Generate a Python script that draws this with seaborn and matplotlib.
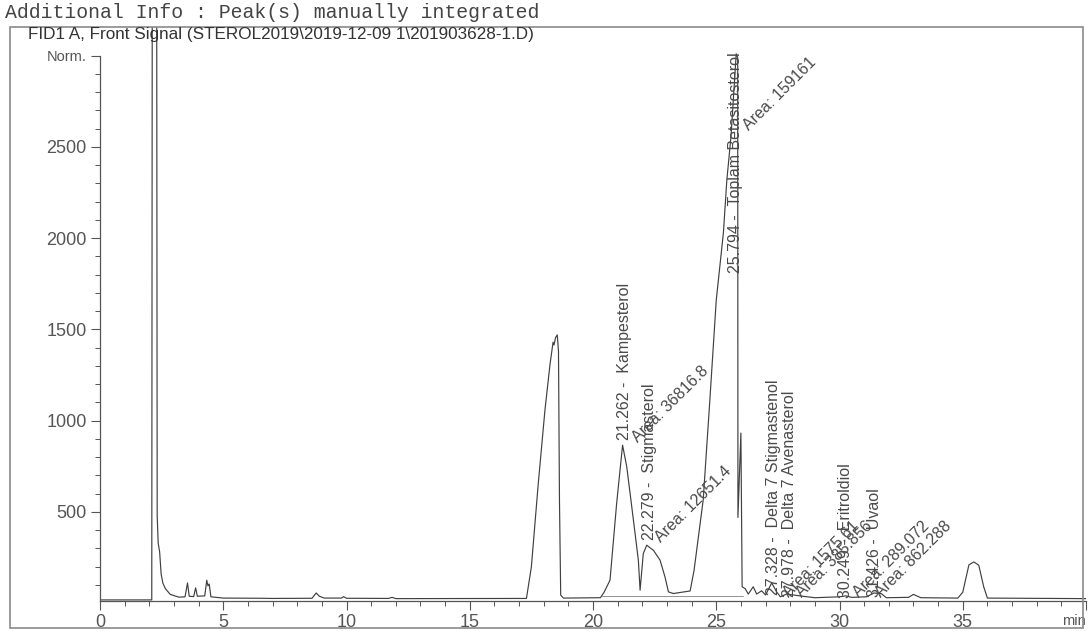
#Libraries
import numpy as np
import pandas as pd
import matplotlib
matplotlib.use("Agg")
import matplotlib.pyplot as plt
import matplotlib.patches as patches
from matplotlib.ticker import MultipleLocator, FixedLocator
import seaborn as sns

#Chromatogram trace (retention time in min, detector signal)
time_min = [0.05, 2.10, 2.12, 2.30, 2.32, 2.36, 2.42, 2.48, 2.55, 2.65, 2.85, 3.2,
            3.45, 3.55, 3.62, 3.80, 3.88, 3.95, 4.25, 4.33, 4.38, 4.43, 4.50, 5.0,
            6.5, 7.0, 8.6, 8.77, 8.9, 9.1, 9.8, 9.88, 10.0, 11.7, 11.85, 12.0,
            17.3, 17.5, 17.78, 18.05, 18.26, 18.38, 18.42, 18.48, 18.55, 18.60,
            18.64, 18.69, 18.8, 20.3, 20.45, 20.69, 20.96, 21.2, 21.37, 21.64,
            21.84, 21.91, 22.04, 22.18, 22.3, 22.45, 22.72, 22.92, 23.06, 23.26,
            23.94, 24.1, 24.47, 24.74, 25.0, 25.29, 25.43, 25.6, 25.81, 25.87,
            25.88, 26.0, 26.05, 26.17, 26.3, 26.5, 26.64, 26.84, 27.0, 27.25,
            27.45, 27.6, 27.85, 28.4, 29.0, 30.0, 30.25, 30.5, 31.1, 31.4, 31.7,
            31.9, 32.8, 33.0, 33.3, 34.8, 35.0, 35.25, 35.45, 35.65, 35.85, 36.0,
            40.0]
signal = [18, 18, 3400, 3400, 480, 330, 280, 160, 110, 80, 48, 33,
          35, 111, 38, 36, 84, 38, 40, 126, 95, 105, 35, 28,
          27, 26, 27, 56, 38, 28, 28, 36, 27, 26, 32, 25,
          26, 199, 656, 1057, 1313, 1430, 1415, 1455, 1470, 1380,
          560, 44, 28, 30, 60, 126, 548, 866, 747, 455,
          236, 71, 272, 318, 305, 290, 236, 144, 62, 53,
          67, 180, 565, 1112, 1660, 2029, 2319, 2560, 3010, 2990,
          470, 932, 90, 80, 50, 90, 50, 68, 45, 111,
          62, 35, 50, 40, 30, 35, 40, 32, 35, 56, 52,
          30, 32, 48, 30, 28, 60, 210, 226, 208, 90, 28,
          25]

#Integrated peaks
peak_rt = [21.262, 22.279, 25.794, 27.328, 27.978, 30.249, 31.426]
peak_name = ["Kampesterol", "Stigmasterol", "Toplam Betasitosterol",
             "Delta 7 Stigmastenol", "Delta 7 Avenasterol", "Eritroldiol", "Uvaol"]
label_base = [893, 347, 1808, 45, 35, 30, 35]

area_text = ["36816.8", "12651.4", "159161", "1575.61", "385.856", "289.072", "862.288"]
area_x = [21.48, 22.40, 26.00, 27.60, 28.15, 30.45, 31.35]
area_y = [866, 318, 2577, 18, 18, 18, 18]

#integration baseline
base_t = [20.35, 26.1]
base_v = [40, 40]

df = pd.DataFrame({"time": time_min, "signal": signal})

sns.set_style("white")
plt.rcParams["font.family"] = ["Liberation Sans", "DejaVu Sans"]

fig = plt.figure(figsize=(10.92, 6.31), dpi=100)
ax = fig.add_axes([100 / 1092, 30 / 631, 986 / 1092, 574 / 631])

sns.lineplot(data=df, x="time", y="signal", ax=ax, color="#404040",
             linewidth=0.85, estimator=None, sort=False)
ax.plot(base_t, base_v, color="#808080", linewidth=0.6)

ax.set_xlim(0, 40)
ax.set_ylim(12, 3157)
ax.set_xlabel("")
ax.set_ylabel("")

for s in ["top", "right"]:
    ax.spines[s].set_visible(False)
ax.spines["left"].set_bounds(12, 3000)
for s in ["left", "bottom"]:
    ax.spines[s].set_color("#555555")
    ax.spines[s].set_linewidth(0.9)

ax.xaxis.set_major_locator(FixedLocator([0, 5, 10, 15, 20, 25, 30, 35, 40]))
ax.set_xticklabels(["0", "5", "10", "15", "20", "25", "30", "35", "min"])
ax.xaxis.set_minor_locator(MultipleLocator(1))
ax.yaxis.set_major_locator(FixedLocator([500, 1000, 1500, 2000, 2500, 3000]))
ax.set_yticklabels(["500", "1000", "1500", "2000", "2500", "Norm."])
ax.yaxis.set_minor_locator(FixedLocator(np.arange(100, 3001, 100)))

ax.tick_params(which="major", direction="out", length=6.5, width=0.8,
               color="#555555", labelcolor="#555555", labelsize=13, pad=3,
               bottom=True, left=True)
ax.tick_params(which="minor", direction="out", length=3.5, width=0.7,
               color="#555555", bottom=True, left=True)
ax.get_yticklabels()[-1].set_fontsize(10.5)
ax.get_xticklabels()[-1].set_fontsize(10.5)
ax.get_xticklabels()[-1].set_horizontalalignment("right")

#peak labels
for rt, name, yb in zip(peak_rt, peak_name, label_base):
    ax.text(rt, yb, f"{rt:.3f} -  {name}", rotation=90, ha="center", va="bottom",
            fontsize=11.5, color="#4a4a4a")
for txt, xa, ya in zip(area_text, area_x, area_y):
    ax.text(xa, ya, f"Area: {txt}", rotation=45, ha="left", va="bottom",
            fontsize=11.5, color="#4a4a4a")

#frame and header
fig.patches.append(patches.Rectangle((10 / 1092, 3 / 631), 1073 / 1092, 601 / 631,
                                     transform=fig.transFigure, fill=False,
                                     edgecolor="#8a8a8a", linewidth=1.2))
fig.text(28 / 1092, 1 - 35 / 631,
         "FID1 A, Front Signal (STEROL2019\\2019-12-09 1\\201903628-1.D)",
         fontsize=12.3, color="#333333", va="center", ha="left")
fig.text(5 / 1092, 1 - 12 / 631, "Additional Info : Peak(s) manually integrated",
         fontsize=14.3, color="#444444", va="center", ha="left",
         family=["Liberation Mono", "DejaVu Sans Mono"])

plt.savefig("out.png", dpi=100)
